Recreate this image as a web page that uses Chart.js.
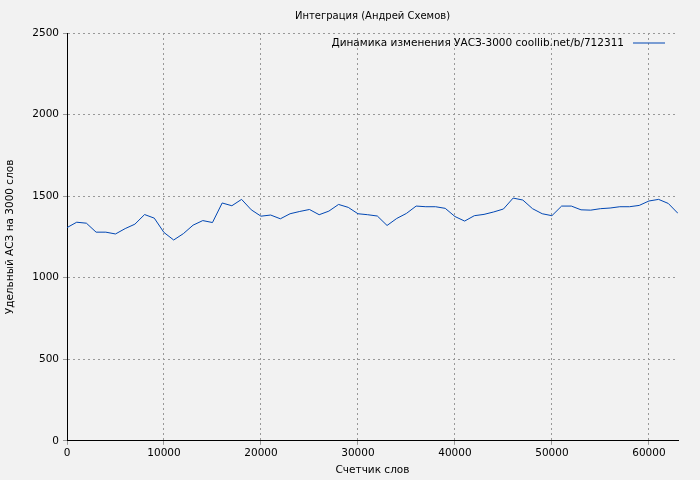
<!DOCTYPE html>
<html><head><meta charset="utf-8">
<script src="https://cdn.jsdelivr.net/npm/chart.js@4"></script>
<style>html,body{margin:0;background:#f2f2f2}</style>
</head><body><canvas id="c" width="700" height="480" style="width:700px;height:480px"></canvas>
<script>
const words=[0,1000,2000,3000,4000,5000,6000,7000,8000,9000,10000,11000,12000,13000,14000,15000,16000,17000,18000,19000,20000,21000,22000,23000,24000,25000,26000,27000,28000,29000,30000,31000,32000,33000,34000,35000,36000,37000,38000,39000,40000,41000,42000,43000,44000,45000,46000,47000,48000,49000,50000,51000,52000,53000,54000,55000,56000,57000,58000,59000,60000,61000,62000,63000];
const values=[1307,1340,1334,1279,1279,1268,1301,1328,1387,1365,1277,1231,1270,1322,1350,1338,1458,1441,1480,1416,1377,1384,1361,1392,1406,1418,1386,1408,1449,1431,1392,1386,1378,1320,1363,1394,1439,1435,1435,1425,1375,1347,1380,1388,1403,1421,1488,1476,1423,1392,1380,1439,1439,1416,1414,1423,1427,1435,1435,1443,1470,1480,1455,1394];
const xTicks=[0,10000,20000,30000,40000,50000,60000];
const yTicks=[0,500,1000,1500,2000,2500];
const seriesName='Динамика изменения УАСЗ-3000 coollib.net/b/712311';
const titleText='Интеграция (Андрей Схемов)';
const xLabel='Счетчик слов', yLabel='Удельный АСЗ на 3000 слов';
const F='"DejaVu Sans"';
const legendPlugin={id:'lg',afterDraw(ch){const c=ch.ctx,a=ch.chartArea;c.save();c.font='10.5px '+F;c.fillStyle='#000';c.textAlign='right';c.textBaseline='middle';const y=a.top+10;c.fillText(seriesName,a.right-54,y);c.strokeStyle='#0047b3';c.lineWidth=1;c.beginPath();c.moveTo(a.right-45,y);c.lineTo(a.right-13,y);c.stroke();
c.font='10px '+F;c.textAlign='center';c.fillText(titleText,(a.left+a.right)/2,16);c.restore();}};
new Chart(document.getElementById('c'),{type:'line',
data:{datasets:[{data:words.map((x,i)=>({x,y:values[i]})),borderColor:'#0047b3',borderWidth:1,pointRadius:0,tension:0}]},
options:{animation:false,responsive:false,maintainAspectRatio:false,
layout:{padding:{top:33,right:22,left:0,bottom:0}},
plugins:{legend:{display:false},tooltip:{enabled:false},title:{display:false}},
scales:{x:{type:'linear',min:0,max:63000,afterBuildTicks(s){s.ticks=xTicks.map(v=>({value:v}));},ticks:{callback:v=>String(v),color:'#000',font:{family:F,size:10.5},maxRotation:0,padding:2},
grid:{color:'#999',tickLength:4},border:{color:'#000',dash:[2,3]},title:{display:true,text:xLabel,color:'#000',font:{family:F,size:10.5},padding:{top:3,bottom:3}}},
y:{min:0,max:2500,afterBuildTicks(s){s.ticks=yTicks.map(v=>({value:v}));},ticks:{callback:v=>String(v),color:'#000',font:{family:F,size:10.5},padding:4},afterFit(s){s.width=67;},
grid:{color:'#999',tickLength:4},border:{color:'#000',dash:[2,3]},title:{display:true,text:yLabel,color:'#000',font:{family:F,size:10.5},padding:{bottom:4}}}}},
plugins:[legendPlugin,{id:'bg',beforeDraw(ch){const c=ch.ctx;c.save();c.fillStyle='#f2f2f2';c.fillRect(0,0,ch.width,ch.height);c.restore();}}]
});
</script></body></html>
